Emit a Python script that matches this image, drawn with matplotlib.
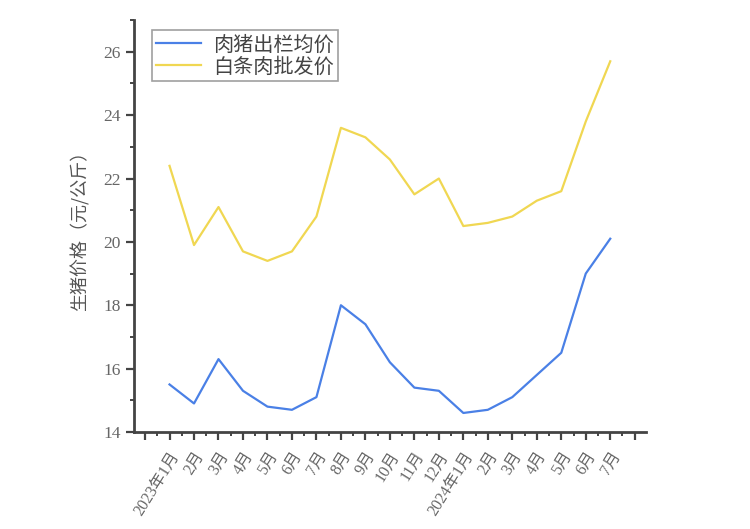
import matplotlib
matplotlib.use("Agg")
import matplotlib.pyplot as plt
from matplotlib.ticker import MultipleLocator, FixedLocator

plt.rcParams['font.family'] = ['Liberation Serif', 'Noto Sans CJK SC', 'DejaVu Sans']

months = ["2023年1月", "2月", "3月", "4月", "5月", "6月", "7月", "8月", "9月", "10月",
          "11月", "12月", "2024年1月", "2月", "3月", "4月", "5月", "6月", "7月"]
hog_price = [15.5, 14.9, 16.3, 15.3, 14.8, 14.7, 15.1, 18.0, 17.4, 16.2,
             15.4, 15.3, 14.6, 14.7, 15.1, 15.8, 16.5, 19.0, 20.1]
pork_price = [22.4, 19.9, 21.1, 19.7, 19.4, 19.7, 20.8, 23.6, 23.3, 22.6,
              21.5, 22.0, 20.5, 20.6, 20.8, 21.3, 21.6, 23.8, 25.7]
series_names = ["肉猪出栏均价", "白条肉批发价"]

fig = plt.figure(figsize=(7.5, 5.29), dpi=100)
ax = fig.add_axes([0.1787, 0.1834, 0.861 - 0.1787, 0.962 - 0.1834])

x = list(range(len(months)))
ax.plot(x, hog_price, color='#4a80e6', lw=1.6, label=series_names[0])
ax.plot(x, pork_price, color='#f0d752', lw=1.6, label=series_names[1])

ax.set_xlim(-1.45, 19.45)
ax.set_ylim(14, 27)

ax.xaxis.set_major_locator(FixedLocator(list(range(-1, 20))))
ax.xaxis.set_minor_locator(FixedLocator([i + 0.5 for i in range(-2, 20)]))
ax.set_xticklabels([""] + months + [""])
ax.yaxis.set_major_locator(FixedLocator([14, 16, 18, 20, 22, 24, 26]))
ax.yaxis.set_minor_locator(MultipleLocator(1))

for s in ['top', 'right']:
    ax.spines[s].set_visible(False)
for s in ['left', 'bottom']:
    ax.spines[s].set_linewidth(2.0)
    ax.spines[s].set_color('#444444')

ax.tick_params(axis='both', which='major', direction='out', length=6, width=1.6,
               color='#444444', labelcolor='#666666')
ax.tick_params(axis='both', which='minor', direction='out', length=3, width=1.4,
               color='#444444')
ax.tick_params(axis='y', labelsize=12.5)
ax.tick_params(axis='x', labelsize=11.5, pad=6)
for lbl in ax.get_xticklabels():
    lbl.set_rotation(58)
    lbl.set_ha('right')
    lbl.set_va('top')
    lbl.set_rotation_mode('anchor')

ax.set_ylabel("生猪价格（元/公斤）", fontsize=13, color='#555555', labelpad=10,
              family=['Noto Sans CJK SC', 'DejaVu Sans'])

leg = ax.legend(loc='upper left', bbox_to_anchor=(0.028, 0.985),
                frameon=True, fancybox=False, edgecolor='#888888', handlelength=2.2,
                borderpad=0.2, labelspacing=0.05, handletextpad=0.6, borderaxespad=0.2,
                prop={'family': ['Noto Sans CJK SC'], 'size': 14.5})
leg.get_frame().set_linewidth(1.2)
for t in leg.get_texts():
    t.set_color('#444444')

fig.savefig("out.png", dpi=100)
